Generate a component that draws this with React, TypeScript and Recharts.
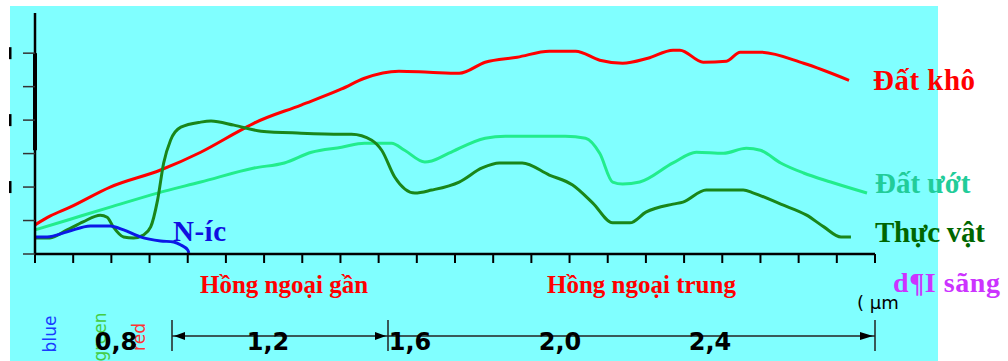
import React from 'react';
import { LineChart, Line, XAxis, YAxis, ReferenceLine } from 'recharts';

// bước sóng (µm) và độ phản xạ (%)
const datKhoX = [0.4, 0.439, 0.492, 0.597, 0.729, 0.834, 0.939, 0.974, 1.097, 1.203, 1.263, 1.353, 1.432, 1.511, 1.579, 1.663, 1.747, 1.816, 1.879, 1.939, 2.005, 2.071, 2.089, 2.15, 2.211, 2.247, 2.3, 2.413, 2.532];
const datKhoY = [8.7, 11.3, 14.0, 20.0, 25.1, 30.4, 37.0, 39.1, 44.5, 49.3, 52.5, 54.6, 54.3, 54.0, 57.3, 58.8, 60.6, 60.6, 57.9, 57.0, 58.5, 60.9, 60.9, 57.3, 57.6, 60.3, 60.3, 57.0, 51.9];

const datUotX = [0.4, 0.484, 0.597, 0.721, 0.834, 0.974, 1.053, 1.124, 1.203, 1.263, 1.334, 1.368, 1.421, 1.439, 1.484, 1.579, 1.632, 1.789, 1.842, 1.879, 1.913, 1.939, 1.984, 2.071, 2.132, 2.203, 2.263, 2.3, 2.353, 2.413, 2.484, 2.579];
const datUotY = [7.2, 10.1, 14.0, 18.2, 21.5, 25.7, 27.2, 30.4, 31.9, 33.1, 33.1, 31.0, 27.5, 27.8, 30.1, 34.6, 35.2, 35.2, 34.6, 30.1, 21.5, 20.9, 21.5, 27.2, 30.4, 30.1, 31.6, 31.0, 27.2, 24.2, 21.5, 18.2];

const thucVatX = [0.4, 0.439, 0.484, 0.526, 0.571, 0.589, 0.605, 0.632, 0.658, 0.684, 0.703, 0.721, 0.737, 0.755, 0.782, 0.834, 0.861, 0.921, 0.992, 1.097, 1.203, 1.229, 1.282, 1.308, 1.342, 1.395, 1.439, 1.511, 1.571, 1.616, 1.676, 1.747, 1.808, 1.861, 1.913, 1.958, 2.0, 2.071, 2.097, 2.158, 2.255, 2.282, 2.353, 2.421, 2.466, 2.511, 2.537];
const thucVatY = [4.8, 4.8, 7.2, 9.6, 11.6, 11.0, 8.1, 5.1, 4.8, 5.7, 8.1, 16.1, 27.2, 34.0, 37.9, 39.4, 39.7, 38.5, 36.7, 36.1, 35.8, 35.8, 34.0, 31.0, 23.0, 18.2, 19.1, 21.5, 25.7, 27.2, 27.2, 23.6, 20.6, 15.2, 9.3, 9.3, 12.5, 14.9, 15.5, 19.1, 19.1, 18.2, 14.9, 11.6, 8.1, 5.1, 5.1];

const nuocX = [0.4, 0.432, 0.484, 0.545, 0.597, 0.632, 0.676, 0.729, 0.763, 0.782, 0.8, 0.803];
const nuocY = [5.1, 5.1, 6.6, 8.4, 8.4, 7.2, 5.1, 3.9, 3.6, 2.7, 1.2, 0.3];

const xTicks = [0.4, 0.5, 0.6, 0.7, 0.8, 0.9, 1.0, 1.1, 1.2, 1.3, 1.4, 1.5, 1.6, 1.7, 1.8, 1.9, 2.0, 2.1, 2.2, 2.3, 2.4, 2.5, 2.6];
const yTicks = [0, 10, 20, 30, 40, 50, 60];

const scaleLabels = ['0,8', '1,2', '1,6', '2,0', '2,4'];
const scaleLabelX = [116, 268, 410, 560, 710];

const toPoints = (xs: number[], ys: number[]) => xs.map((x, i) => ({ x, y: ys[i] }));

const serif = '"Liberation Serif", "Times New Roman", serif';
const sans = '"DejaVu Sans", sans-serif';

const YTick = (props: any) => {
    const { y, payload } = props;
    if (payload.value > 0 && payload.value % 20 === 0) {
        return <rect x={9} y={y - 6} width={2.5} height={12} fill="#000" />;
    }
    return <g />;
};

export default function App() {
    return (
        <div style={{ position: 'relative', width: 1008, height: 361, background: '#fff', overflow: 'hidden' }}>
            <style>{'body{margin:0}'}</style>
            <div style={{ position: 'absolute', left: 10, top: 6, width: 928, height: 355, background: '#80ffff' }} />
            <div style={{ position: 'absolute', left: 0, top: 0 }}>
                <LineChart width={1008} height={361} margin={{ top: 13, right: 133, bottom: 0, left: 0 }}>
                    <XAxis
                        type="number"
                        dataKey="x"
                        domain={[0.4, 2.6]}
                        ticks={xTicks}
                        height={107}
                        tick={() => <g />}
                        tickSize={9}
                        axisLine={{ stroke: '#000', strokeWidth: 2.5 }}
                        tickLine={{ stroke: '#000', strokeWidth: 2 }}
                    />
                    <YAxis
                        type="number"
                        domain={[0, 72]}
                        ticks={yTicks}
                        width={35}
                        tickSize={12}
                        tick={<YTick />}
                        axisLine={{ stroke: '#000', strokeWidth: 2.5 }}
                        tickLine={{ stroke: '#333', strokeWidth: 1.5 }}
                    />
                    <ReferenceLine
                        segment={[{ x: 0.4, y: 31 }, { x: 0.4, y: 60 }]}
                        stroke="#000"
                        strokeWidth={4}
                    />
                    <Line data={toPoints(datUotX, datUotY)} dataKey="y" type="monotone" stroke="#22ec8c" strokeWidth={3} dot={false} isAnimationActive={false} />
                    <Line data={toPoints(datKhoX, datKhoY)} dataKey="y" type="monotone" stroke="#ff0000" strokeWidth={3} dot={false} isAnimationActive={false} />
                    <Line data={toPoints(thucVatX, thucVatY)} dataKey="y" type="monotone" stroke="#1a861a" strokeWidth={3} dot={false} isAnimationActive={false} />
                    <Line data={toPoints(nuocX, nuocY)} dataKey="y" type="monotone" stroke="#0c18e6" strokeWidth={3} dot={false} isAnimationActive={false} />
                </LineChart>
            </div>
            <svg width={1008} height={361} style={{ position: 'absolute', left: 0, top: 0, pointerEvents: 'none' }}>
                <g fontFamily={serif} fontWeight="bold" fontSize={29}>
                    <text x={873} y={90} fill="#ff0000" textLength={102}>Đất khô</text>
                    <text x={875} y={193} fill="#22cc99">Đất ướt</text>
                    <text x={875} y={242} fill="#006600" textLength={110}>Thực vật</text>
                    <text x={173} y={241} fill="#1010e0" textLength={53}>N-íc</text>
                </g>
                <g fontFamily={serif} fontWeight="bold" fontSize={25}>
                    <text x={200} y={293} fill="#ff0000">Hồng ngoại gần</text>
                    <text x={547} y={293} fill="#ff0000">Hồng ngoại trung</text>
                    <text x={893} y={292} fill="#cc33ff" fontSize={28} textLength={107}>d¶I sãng</text>
                </g>
                <text x={857} y={309} fontFamily={sans} fontSize={18} fill="#000">( µm</text>

                <g fontFamily={sans} fontSize={17}>
                    <text transform="translate(56,334) rotate(-90)" textAnchor="middle" fill="#1a3cff">blue</text>
                    <text transform="translate(106,337) rotate(-90)" textAnchor="middle" fill="#44cc44">green</text>
                    <text transform="translate(145,337) rotate(-90)" textAnchor="middle" fill="#ff3333">red</text>
                </g>

                <g stroke="#222" strokeWidth={1.5}>
                    <line x1={172} y1={336} x2={875} y2={336} />
                    <line x1={172} y1={320} x2={172} y2={351} />
                    <line x1={388} y1={320} x2={388} y2={351} />
                    <line x1={875} y1={320} x2={875} y2={351} />
                </g>
                <g fill="#000">
                    <polygon points="174,336 185,332 185,340" />
                    <polygon points="386,336 375,332 375,340" />
                    <polygon points="873,336 860,332 860,340" />
                </g>
                <g fontFamily={sans} fontWeight="bold" fontSize={24} fill="#000" textAnchor="middle">
                    {scaleLabels.map((s, i) => (
                        <text key={s} x={scaleLabelX[i]} y={350}>{s}</text>
                    ))}
                </g>
            </svg>
        </div>
    );
}
